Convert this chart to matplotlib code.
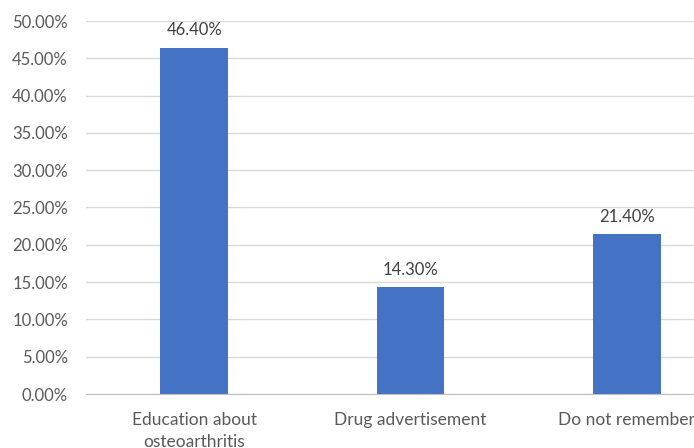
import matplotlib.pyplot as plt
from matplotlib.ticker import FuncFormatter, MultipleLocator

# values
categories = ['Education about\nosteoarthritis', 'Drug advertisement', 'Do not remember']
shares = [46.4, 14.3, 21.4]

plt.rcParams['font.family'] = ['Lato', 'DejaVu Sans']
text_col = '#595959'

fig = plt.figure(figsize=(6.94, 4.48), dpi=100)
# plot area runs past the right edge, as in the cropped reference
ax = fig.add_axes([86 / 694, 54 / 448, 649 / 694, 373 / 448])

x = range(len(categories))
bars = ax.bar(x, shares, width=0.313, color='#4472C4', zorder=3)

for b, v in zip(bars, shares):
    ax.annotate(f'{v:.2f}%', xy=(b.get_x() + b.get_width() / 2, v),
                xytext=(0, 7), textcoords='offset points',
                ha='center', va='bottom', fontsize=12, color='#404040')

ax.set_xlim(-0.5, len(categories) - 0.5)
ax.set_ylim(0, 50)
ax.yaxis.set_major_locator(MultipleLocator(5))
ax.yaxis.set_major_formatter(FuncFormatter(lambda v, p: f'{v:.2f}%'))
ax.set_xticks(list(x))
ax.set_xticklabels(categories, fontsize=12.5, color=text_col, linespacing=1.45)
ax.tick_params(axis='y', labelsize=12, labelcolor=text_col, length=0, pad=13)
ax.tick_params(axis='x', length=0, pad=13)

ax.grid(axis='y', color='#D9D9D9', linewidth=1, zorder=0)
for s in ['top', 'right', 'left']:
    ax.spines[s].set_visible(False)
ax.spines['bottom'].set_color('#BFBFBF')
ax.spines['bottom'].set_zorder(4)

fig.savefig('out.png', dpi=100)
